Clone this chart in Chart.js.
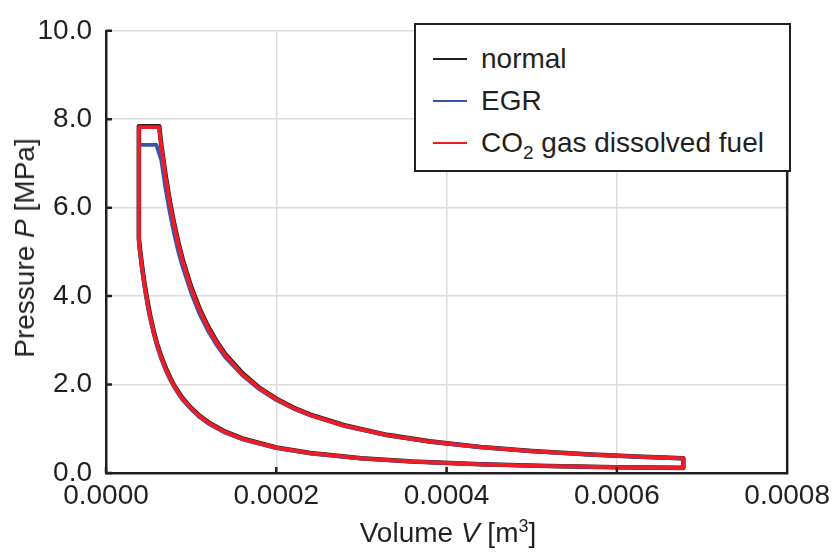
<!DOCTYPE html>
<html>
<head>
<meta charset="utf-8">
<script src="https://cdn.jsdelivr.net/npm/chart.js@4.4.1/dist/chart.umd.min.js"></script>
<style>
  body { margin: 0; background: #fff; font-family: "Liberation Sans", Arial, sans-serif; color: #231f20; }
  #wrap { position: relative; width: 836px; height: 552px; }
  #chart { position: absolute; left: 0; top: 0; }
  .axis-title { position: absolute; font-size: 28px; line-height: 28px; white-space: nowrap; }
  #ytitle { left: 25px; top: 248px; transform: translate(-50%, -50%) rotate(-90deg); }
  #xtitle { left: 448px; top: 533px; transform: translate(-50%, -50%); }
  #legend { position: absolute; left: 414px; top: 23px; width: 377px; height: 149px; box-sizing: border-box;
            border: 2px solid #231f20; background: #fff; }
  .row { position: absolute; left: 17px; height: 28px; display: flex; align-items: center; font-size: 28px; line-height: 28px; white-space: nowrap; }
  .row span.ln { display: inline-block; width: 34px; height: 2px; margin-right: 14px; }
  sub { font-size: 19px; line-height: 0; vertical-align: -7px; }
  sup { font-size: 18px; line-height: 0; vertical-align: 10px; }
</style>
</head>
<body>
<div id="wrap">
  <canvas id="chart" width="836" height="552"></canvas>
  <div class="axis-title" id="ytitle">Pressure <i>P</i> [MPa]</div>
  <div class="axis-title" id="xtitle">Volume <i>V</i> [m<sup>3</sup>]</div>
  <div id="legend"></div>
</div>
<script>
// axis ticks
const xTicks = [0, 0.0002, 0.0004, 0.0006, 0.0008];
const yTicks = [0, 2, 4, 6, 8, 10];

const seriesNames = ['normal', 'EGR', 'CO<sub>2</sub> gas dissolved fuel'];
const seriesColors = ['#231f20', '#3b55a6', '#ee1c25'];

// compression stroke volumes [m3] (from bottom dead centre)
const compressionV = [0.000678, 0.0006, 0.00052, 0.00044, 0.00036, 0.0003, 0.00024, 0.0002, 0.00016, 0.00014,
  0.00012, 0.00011, 0.0001, 0.00009, 0.000085, 0.00008, 0.000075, 0.00007, 0.000065, 0.00006,
  0.000056, 0.000052, 0.000049, 0.000046, 0.000044, 0.000042, 0.00004, 0.0000386];
// expansion stroke volumes [m3]
const expansionV = [0.000065, 0.00007, 0.000075, 0.00008, 0.000085, 0.00009, 0.0001, 0.00011, 0.00012, 0.00013,
  0.00014, 0.00016, 0.00018, 0.0002, 0.00022, 0.00024, 0.00028, 0.00033, 0.00038, 0.00044,
  0.0005, 0.00057, 0.00063, 0.000678];

// pressures [MPa]
const normalCompP = [0.116, 0.131, 0.158, 0.199, 0.261, 0.334, 0.451, 0.577, 0.780, 0.933,
  1.15, 1.29, 1.47, 1.69, 1.83, 1.98, 2.17, 2.38, 2.63, 2.92, 3.21, 3.55, 3.85, 4.19, 4.44, 4.73, 5.05, 5.30];
const egrCompP = [0.110, 0.128, 0.155, 0.194, 0.255, 0.326, 0.440, 0.563, 0.761, 0.911,
  1.12, 1.26, 1.44, 1.65, 1.79, 1.94, 2.12, 2.32, 2.57, 2.86, 3.14, 3.47, 3.75, 4.10, 4.35, 4.63, 4.95, 5.20];
const co2CompP = [0.115, 0.130, 0.157, 0.197, 0.259, 0.331, 0.447, 0.572, 0.773, 0.925,
  1.14, 1.28, 1.46, 1.68, 1.815, 1.97, 2.15, 2.36, 2.61, 2.90, 3.19, 3.52, 3.82, 4.16, 4.41, 4.70, 5.02, 5.27];

const normalExpP = [7.41, 6.73, 6.14, 5.64, 5.21, 4.83, 4.21, 3.71, 3.31, 2.97, 2.69, 2.26, 1.93, 1.68,
  1.48, 1.32, 1.08, 0.862, 0.715, 0.588, 0.497, 0.417, 0.366, 0.332];
const egrExpP = [7.07, 6.42, 5.88, 5.41, 5.00, 4.66, 4.07, 3.59, 3.21, 2.89, 2.62, 2.21, 1.895, 1.65,
  1.455, 1.30, 1.06, 0.851, 0.707, 0.582, 0.491, 0.413, 0.362, 0.328];
const co2ExpP = [7.39, 6.70, 6.11, 5.61, 5.18, 4.80, 4.18, 3.68, 3.28, 2.95, 2.67, 2.24, 1.92, 1.67,
  1.47, 1.31, 1.07, 0.857, 0.711, 0.585, 0.494, 0.415, 0.364, 0.330];

// peak pressure [MPa] and end of combustion volume [m3]
const peakP = [7.84, 7.42, 7.82];
const cutoffV = [0.0000625, 0.0000592, 0.0000623];

function buildLoop(compP, expP, pMax, vCut) {
  const pts = compressionV.map((v, i) => ({ x: v, y: compP[i] }));
  const vMin = compressionV[compressionV.length - 1];
  pts.push({ x: vMin, y: pMax });
  pts.push({ x: vCut, y: pMax });
  expansionV.forEach((v, i) => pts.push({ x: v, y: expP[i] }));
  pts.push(pts[0]);
  return pts;
}

const loops = [
  buildLoop(normalCompP, normalExpP, peakP[0], cutoffV[0]),
  buildLoop(egrCompP, egrExpP, peakP[1], cutoffV[1]),
  buildLoop(co2CompP, co2ExpP, peakP[2], cutoffV[2])
];

// legend
const legend = document.getElementById('legend');
const rowTops = [20, 62, 104];
seriesNames.forEach((name, i) => {
  const row = document.createElement('div');
  row.className = 'row';
  row.style.top = rowTops[i] + 'px';
  row.innerHTML = `<span class="ln" style="background:${seriesColors[i]}"></span><span>${name}</span>`;
  legend.appendChild(row);
});

const frameColor = '#231f20';

// inner tick marks + right frame line
const frameLines = {
  id: 'frameLines',
  afterDraw(chart) {
    const { ctx, chartArea: a, scales } = chart;
    ctx.save();
    ctx.strokeStyle = frameColor;
    ctx.lineWidth = 2.5;
    ctx.beginPath();
    ctx.moveTo(a.right, a.top);
    ctx.lineTo(a.right, a.bottom + 1.25);
    yTicks.forEach(t => {
      const y = scales.y.getPixelForValue(t);
      ctx.moveTo(a.left, y);
      ctx.lineTo(a.left + 6, y);
    });
    xTicks.forEach(t => {
      const x = scales.x.getPixelForValue(t);
      ctx.moveTo(x, a.bottom);
      ctx.lineTo(x, a.bottom - 6);
    });
    ctx.stroke();
    ctx.restore();
  }
};

const tickFont = { family: '"Liberation Sans", Arial, sans-serif', size: 28 };

new Chart(document.getElementById('chart'), {
  type: 'scatter',
  data: {
    datasets: loops.map((pts, i) => ({
      label: seriesNames[i],
      data: pts,
      showLine: true,
      borderColor: seriesColors[i],
      borderWidth: i === 0 ? 4.6 : 3.8,
      borderJoinStyle: 'round',
      pointRadius: 0,
      tension: 0,
      order: 2 - i
    }))
  },
  options: {
    responsive: false,
    animation: false,
    layout: { padding: { top: 23, right: 46, left: 0, bottom: 0 } },
    plugins: { legend: { display: false }, tooltip: { enabled: false } },
    scales: {
      x: {
        type: 'linear',
        min: 0, max: 0.0008,
        afterFit: s => { s.height = 79; },
        afterBuildTicks: s => { s.ticks = xTicks.map(v => ({ value: v })); },
        ticks: { font: tickFont, color: frameColor, padding: 6, maxRotation: 0,
                 callback: v => Number(v).toFixed(4) },
        grid: { color: '#dcdcdc', lineWidth: 1.5, drawTicks: false },
        border: { color: frameColor, width: 2.5 }
      },
      y: {
        type: 'linear',
        min: 0, max: 10,
        afterFit: s => { s.width = 106; },
        afterBuildTicks: s => { s.ticks = yTicks.map(v => ({ value: v })); },
        ticks: { font: tickFont, color: frameColor, padding: 14,
                 callback: v => Number(v).toFixed(1) },
        grid: { color: '#dcdcdc', lineWidth: 1.5, drawTicks: false },
        border: { color: frameColor, width: 2.5 }
      }
    }
  },
  plugins: [frameLines]
});
</script>
</body>
</html>
